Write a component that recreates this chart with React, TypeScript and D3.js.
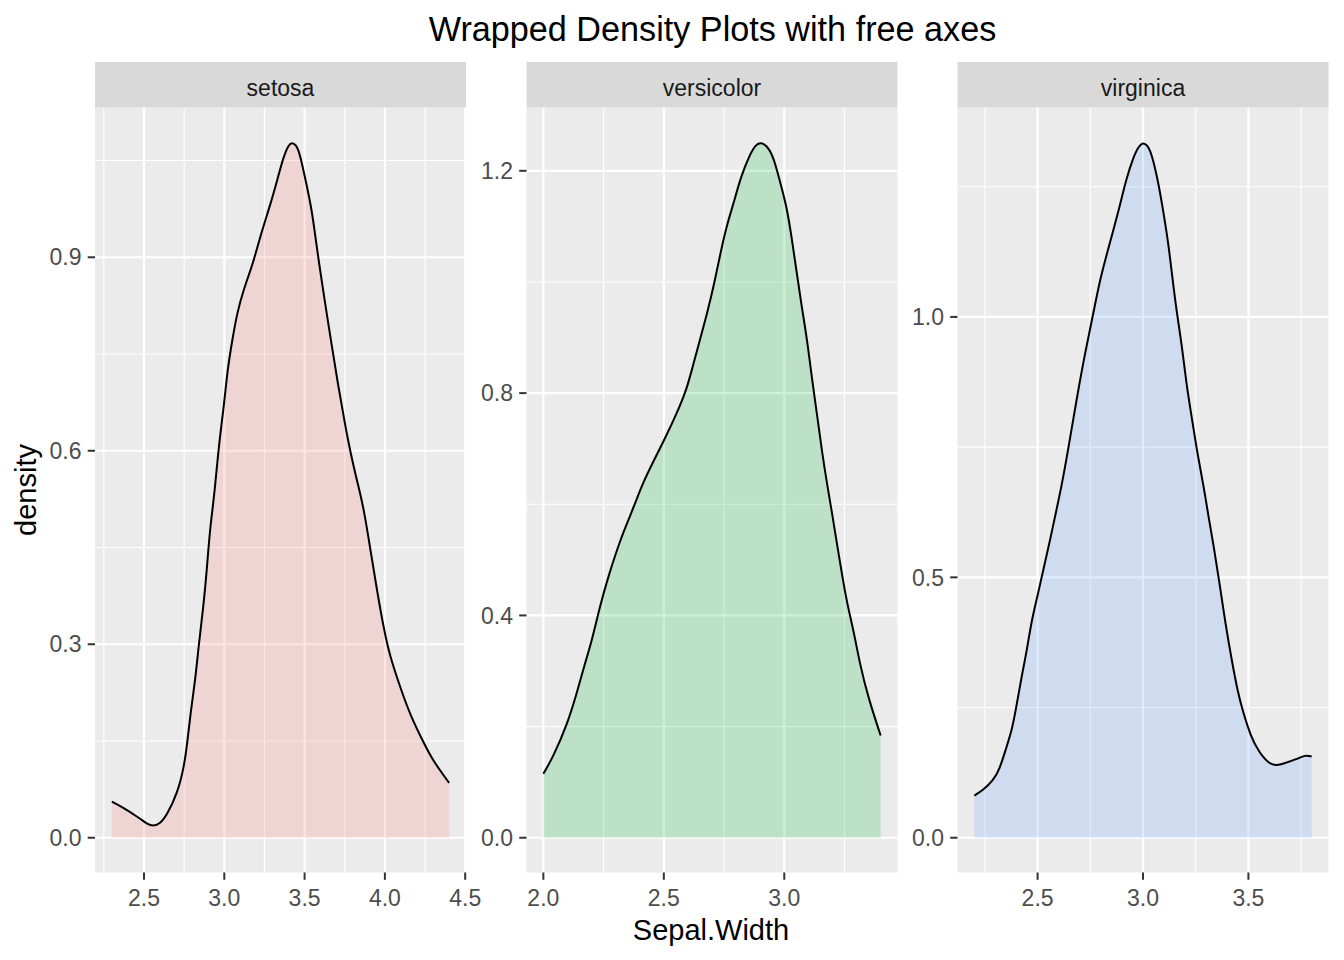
import React from "react";
import * as d3 from "d3";

// ---------- data ----------
const speciesNames = ["setosa", "versicolor", "virginica"];
const fillColors = ["#F8766D", "#00BA38", "#619CFF"];

const setosaX = [2.30, 2.37, 2.43, 2.48, 2.52, 2.56, 2.60, 2.64, 2.71, 2.75, 2.77, 2.79, 2.82, 2.84, 2.87, 2.89, 2.91, 2.94, 2.965, 3.00, 3.02, 3.05, 3.08, 3.12, 3.18, 3.23, 3.29, 3.33, 3.37, 3.40, 3.42, 3.445, 3.47, 3.51, 3.545, 3.575, 3.605, 3.64, 3.67, 3.71, 3.75, 3.79, 3.83, 3.87, 3.91, 3.95, 3.99, 4.03, 4.10, 4.16, 4.24, 4.30, 4.40];
const setosaY = [0.056, 0.047, 0.037, 0.029, 0.021, 0.018, 0.022, 0.034, 0.070, 0.111, 0.148, 0.194, 0.246, 0.297, 0.359, 0.411, 0.478, 0.535, 0.607, 0.674, 0.726, 0.772, 0.814, 0.850, 0.891, 0.938, 0.984, 1.020, 1.057, 1.074, 1.078, 1.075, 1.062, 1.015, 0.974, 0.917, 0.866, 0.809, 0.762, 0.700, 0.643, 0.592, 0.550, 0.509, 0.446, 0.385, 0.328, 0.282, 0.230, 0.189, 0.148, 0.119, 0.085];

const versicolorX = [2.00, 2.04, 2.10, 2.14, 2.17, 2.20, 2.235, 2.27, 2.32, 2.36, 2.39, 2.415, 2.46, 2.51, 2.555, 2.595, 2.62, 2.65, 2.68, 2.71, 2.735, 2.76, 2.79, 2.82, 2.86, 2.88, 2.90, 2.925, 2.955, 2.98, 3.01, 3.03, 3.05, 3.07, 3.095, 3.115, 3.135, 3.155, 3.18, 3.20, 3.22, 3.24, 3.26, 3.29, 3.315, 3.35, 3.40];
const versicolorY = [0.115, 0.145, 0.205, 0.262, 0.310, 0.352, 0.417, 0.471, 0.537, 0.579, 0.612, 0.640, 0.680, 0.723, 0.765, 0.807, 0.848, 0.896, 0.944, 0.998, 1.052, 1.100, 1.142, 1.190, 1.232, 1.246, 1.251, 1.247, 1.226, 1.184, 1.136, 1.082, 1.022, 0.962, 0.896, 0.825, 0.765, 0.699, 0.630, 0.580, 0.525, 0.473, 0.423, 0.368, 0.310, 0.250, 0.184];

const virginicaX = [2.20, 2.24, 2.29, 2.32, 2.35, 2.38, 2.40, 2.425, 2.45, 2.47, 2.50, 2.535, 2.56, 2.59, 2.61, 2.64, 2.685, 2.725, 2.765, 2.795, 2.83, 2.86, 2.89, 2.92, 2.955, 2.98, 3.00, 3.02, 3.04, 3.07, 3.095, 3.12, 3.135, 3.16, 3.185, 3.205, 3.23, 3.26, 3.29, 3.31, 3.335, 3.36, 3.39, 3.42, 3.45, 3.475, 3.51, 3.55, 3.60, 3.635, 3.665, 3.73, 3.77, 3.80];
const virginicaY = [0.081, 0.091, 0.110, 0.132, 0.171, 0.209, 0.254, 0.311, 0.362, 0.414, 0.465, 0.529, 0.573, 0.631, 0.668, 0.733, 0.842, 0.931, 1.008, 1.070, 1.123, 1.168, 1.213, 1.264, 1.308, 1.328, 1.335, 1.330, 1.315, 1.264, 1.206, 1.142, 1.090, 1.008, 0.944, 0.874, 0.810, 0.733, 0.670, 0.618, 0.561, 0.497, 0.414, 0.343, 0.279, 0.241, 0.196, 0.164, 0.141, 0.139, 0.142, 0.151, 0.159, 0.156];

const setosaXTicks = [2.5, 3.0, 3.5, 4.0, 4.5];
const setosaXMinor = [2.25, 2.75, 3.25, 3.75, 4.25];
const setosaYTicks = [0.0, 0.3, 0.6, 0.9];
const setosaYMinor = [0.15, 0.45, 0.75, 1.05];

const versicolorXTicks = [2.0, 2.5, 3.0];
const versicolorXMinor = [2.25, 2.75, 3.25];
const versicolorYTicks = [0.0, 0.4, 0.8, 1.2];
const versicolorYMinor = [0.2, 0.6, 1.0];

const virginicaXTicks = [2.5, 3.0, 3.5];
const virginicaXMinor = [2.25, 2.75, 3.25, 3.75];
const virginicaYTicks = [0.0, 0.5, 1.0];
const virginicaYMinor = [0.25, 0.75, 1.25];

const titleText = "Wrapped Density Plots with free axes";
const xTitle = "Sepal.Width";
const yTitle = "density";

// ---------- layout ----------
const W = 1344;
const H = 960;
const FONT = "'Liberation Sans', Arial, Helvetica, sans-serif";
const panelLefts = [95, 526.5, 957.5];
const panelW = 371;
const panelTop = 107.7;
const panelBottom = 872.5;
const stripTop = 62;

const panels = [
  { name: speciesNames[0], color: fillColors[0], xs: setosaX, ys: setosaY, xt: setosaXTicks, xm: setosaXMinor, yt: setosaYTicks, ym: setosaYMinor },
  { name: speciesNames[1], color: fillColors[1], xs: versicolorX, ys: versicolorY, xt: versicolorXTicks, xm: versicolorXMinor, yt: versicolorYTicks, ym: versicolorYMinor },
  { name: speciesNames[2], color: fillColors[2], xs: virginicaX, ys: virginicaY, xt: virginicaXTicks, xm: virginicaXMinor, yt: virginicaYTicks, ym: virginicaYMinor },
];

const fmt = d3.format(".1f");

function Panel({ p, left }: any) {
  const xMin = d3.min(p.xs) as number;
  const xMax = d3.max(p.xs) as number;
  const yMax = d3.max(p.ys) as number;
  const xPad = (xMax - xMin) * 0.05;
  const yPad = yMax * 0.05;
  const x = d3.scaleLinear().domain([xMin - xPad, xMax + xPad]).range([left, left + panelW]);
  const y = d3.scaleLinear().domain([-yPad, yMax + yPad]).range([panelBottom, panelTop]);
  const pts: [number, number][] = p.xs.map((v: number, i: number) => [v, p.ys[i]]);
  const curve = d3.curveBasis;
  const area = d3.area<[number, number]>().x((d) => x(d[0])).y0(y(0)).y1((d) => y(d[1])).curve(curve);
  const line = d3.line<[number, number]>().x((d) => x(d[0])).y((d) => y(d[1])).curve(curve);
  const [x0, x1] = x.domain();
  const [y0, y1] = y.domain();
  const inX = (v: number) => v >= x0 && v <= x1;
  const inY = (v: number) => v >= y0 && v <= y1;
  return (
    <g>
      <rect x={left} y={stripTop} width={panelW} height={panelTop - stripTop} fill="#D9D9D9" />
      <text x={left + panelW / 2} y={95.5} textAnchor="middle" fontSize={23} fill="#1A1A1A" fontFamily={FONT}>{p.name}</text>
      <rect x={left} y={panelTop} width={panelW} height={panelBottom - panelTop} fill="#EBEBEB" />
      {p.xm.filter(inX).map((v: number) => (
        <line key={"xm" + v} x1={x(v)} x2={x(v)} y1={panelTop} y2={panelBottom} stroke="#FFFFFF" strokeWidth={1.1} />
      ))}
      {p.ym.filter(inY).map((v: number) => (
        <line key={"ym" + v} x1={left} x2={left + panelW} y1={y(v)} y2={y(v)} stroke="#FFFFFF" strokeWidth={1.1} />
      ))}
      {p.xt.filter(inX).map((v: number) => (
        <line key={"xt" + v} x1={x(v)} x2={x(v)} y1={panelTop} y2={panelBottom} stroke="#FFFFFF" strokeWidth={2.2} />
      ))}
      {p.yt.filter(inY).map((v: number) => (
        <line key={"yt" + v} x1={left} x2={left + panelW} y1={y(v)} y2={y(v)} stroke="#FFFFFF" strokeWidth={2.2} />
      ))}
      <path d={area(pts) || ""} fill={p.color} fillOpacity={0.2} />
      <path d={line(pts) || ""} fill="none" stroke="#000000" strokeWidth={2} strokeLinejoin="round" />
      {p.xt.filter(inX).map((v: number) => (
        <g key={"xa" + v}>
          <line x1={x(v)} x2={x(v)} y1={panelBottom} y2={panelBottom + 7.3} stroke="#333333" strokeWidth={2} />
          <text x={x(v)} y={906} textAnchor="middle" fontSize={23} fill="#4D4D4D" fontFamily={FONT}>{fmt(v)}</text>
        </g>
      ))}
      {p.yt.filter(inY).map((v: number) => (
        <g key={"ya" + v}>
          <line x1={left - 7.3} x2={left} y1={y(v)} y2={y(v)} stroke="#333333" strokeWidth={2} />
          <text x={left - 13.5} y={y(v) + 8.2} textAnchor="end" fontSize={23} fill="#4D4D4D" fontFamily={FONT}>{fmt(v)}</text>
        </g>
      ))}
    </g>
  );
}

export default function App() {
  return (
    <svg width={W} height={H} style={{ position: "absolute", left: 0, top: 0, background: "#FFFFFF" }}>
      <rect x={0} y={0} width={W} height={H} fill="#FFFFFF" />
      <text x={712.5} y={41} textAnchor="middle" fontSize={34.2} fill="#000000" fontFamily={FONT}>{titleText}</text>
      {panels.map((p, i) => (
        <Panel key={p.name} p={p} left={panelLefts[i]} />
      ))}
      <text x={711} y={940} textAnchor="middle" fontSize={29} fill="#000000" fontFamily={FONT}>{xTitle}</text>
      <text transform={`translate(36,490) rotate(-90)`} textAnchor="middle" fontSize={29} fill="#000000" fontFamily={FONT}>{yTitle}</text>
    </svg>
  );
}
